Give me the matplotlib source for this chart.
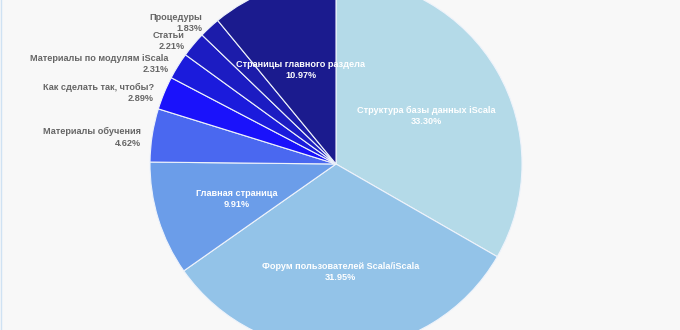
import numpy as np
import matplotlib
matplotlib.use('Agg')
from matplotlib import pyplot as plt

# Data
labels = ['Структура базы данных iScala', 'Форум пользователей Scala/iScala',
          'Главная страница', 'Материалы обучения', 'Как сделать так, чтобы?',
          'Материалы по модулям iScala', 'Статьи', 'Процедуры',
          'Страницы главного раздела']
shares = [33.30, 31.95, 9.91, 4.62, 2.89, 2.31, 2.21, 1.83, 10.97]
colors = ['#b4dae8', '#93c3e8', '#6b9de9', '#4a68f0', '#1a12fb',
          '#1b1bdc', '#1c1cc2', '#1c1caa', '#1b1b8e']
inside = [True, True, True, False, False, False, False, False, True]

plt.rcParams['font.family'] = ['Liberation Sans', 'DejaVu Sans']

fig = plt.figure(figsize=(6.8, 3.3), dpi=100)
fig.patch.set_facecolor('#f8f8f8')
ax = fig.add_axes([0, 0, 1, 1])
ax.set_facecolor('#f8f8f8')

cx, cy, R = 336, 166, 186
wedges, _ = ax.pie(shares, colors=colors, startangle=90, counterclock=False,
                   radius=R, center=(cx, cy), frame=True,
                   wedgeprops=dict(edgecolor='#eef3fb', linewidth=0.8))

# labels: inside in white, small slices outside in grey
dy = -4
for w, lab, val, ins in zip(wedges, labels, shares, inside):
    ang = np.deg2rad((w.theta1 + w.theta2) / 2)
    txt = '%s\n%.2f%%' % (lab, val)
    if ins:
        r = 0.56 * R
        ax.text(cx + r * np.cos(ang), cy + r * np.sin(ang) + dy, txt, ha='center',
                va='center', color='white', fontsize=6.6, fontweight='bold',
                linespacing=1.3)
    else:
        r = 1.06 * R
        ax.text(cx + r * np.cos(ang), cy + r * np.sin(ang) + dy, txt, ha='right',
                va='center', color='#666666', fontsize=6.6, fontweight='bold',
                linespacing=1.3)

ax.set_xlim(0, 680)
ax.set_ylim(0, 330)
ax.set_aspect('equal')
ax.axvline(0.5, color='#cfe2f3', linewidth=1)
for s in ax.spines.values():
    s.set_visible(False)
ax.set_xticks([])
ax.set_yticks([])

plt.savefig('out.png', dpi=100, facecolor=fig.get_facecolor())
